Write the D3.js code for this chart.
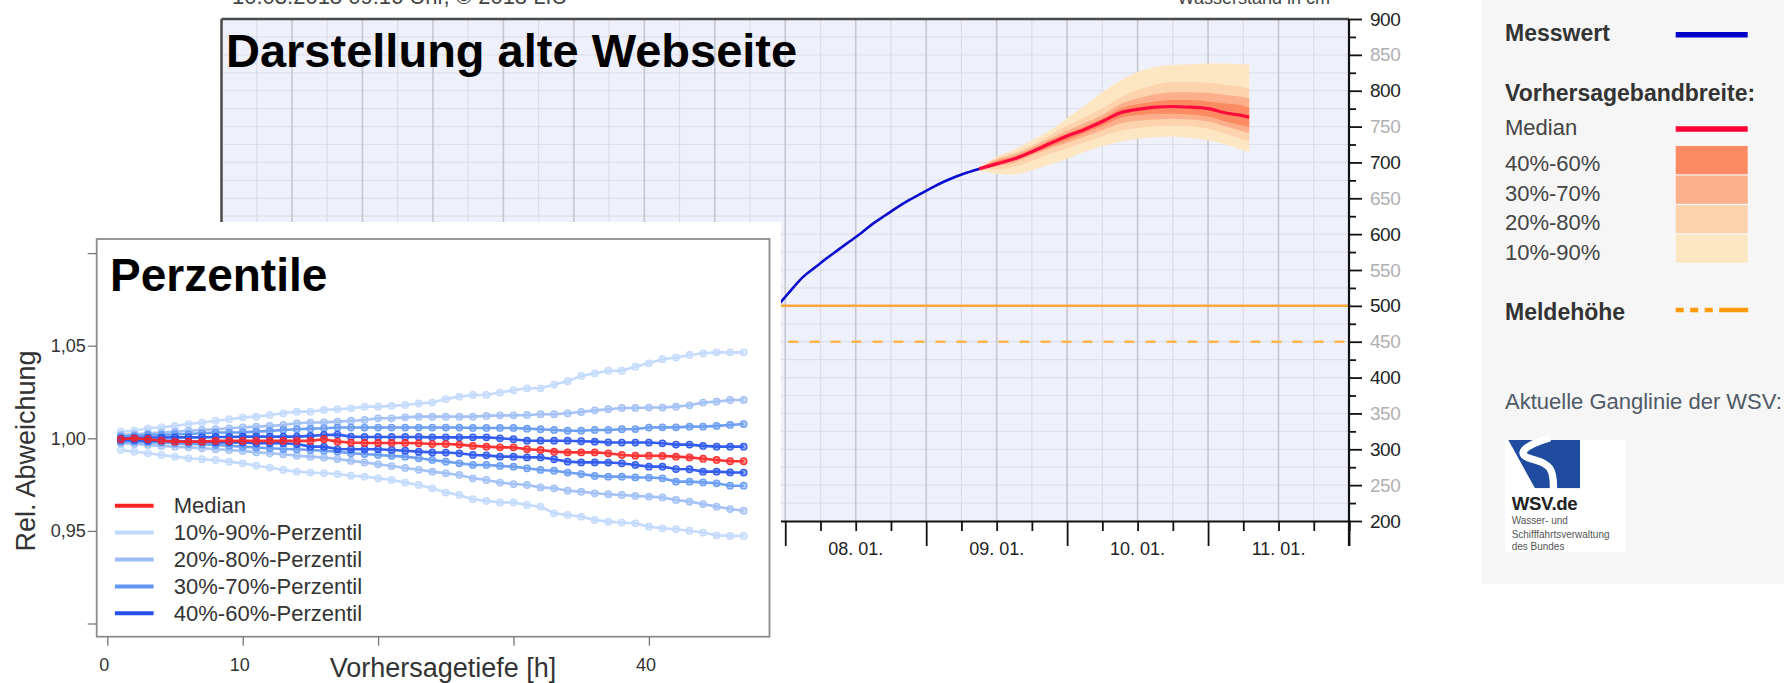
<!DOCTYPE html>
<html><head><meta charset="utf-8">
<script src="https://cdn.jsdelivr.net/npm/d3@7"></script>
<style>body{margin:0;background:#fff}svg{display:block}text{font-family:"Liberation Sans",Arial,sans-serif}</style>
</head><body><svg id="c" width="1789" height="683"></svg>
<script>
// ---------------- DATA ----------------
// Hauptdiagramm: Messwert (Stunden nach 08.01. 00:00)
const messHours  = [-1, 1, 3, 5, 7, 9, 11, 13, 15, 17, 19, 21, 23, 25, 27, 29, 31, 33];
const messValues = [503, 522, 540, 553, 566, 578, 590, 602, 615, 626, 637, 647, 656, 665, 673, 680, 686, 691];
// Vorhersage (Stunden nach 09.01. 09:00)
const fcHours  = [0, 3, 6, 9, 12, 15, 18, 21, 24, 27, 30, 33, 36, 39, 42, 45, 46];
const fcMedian = [691, 698, 705, 715, 726, 737, 746, 757, 769, 774, 777, 778, 777, 775, 769, 765, 763];
const fcQ90 = [693, 708, 718, 731, 744, 762, 779, 798, 814, 826, 833, 836, 837, 838, 838, 837, 837];
const fcQ80 = [692, 706, 714, 724, 738, 751, 763, 776, 790, 801, 808, 812, 812, 811, 808, 805, 803];
const fcQ70 = [692, 704, 711, 721, 733, 744, 755, 766, 781, 789, 795, 798, 798, 797, 794, 791, 789];
const fcQ60 = [691, 702, 708, 718, 730, 740, 750, 761, 775, 781, 785, 787, 787, 785, 782, 779, 776];
const fcQ40 = [691, 697, 703, 712, 722, 731, 741, 751, 762, 766, 768, 768, 767, 764, 757, 751, 749];
const fcQ30 = [690, 695, 700, 710, 719, 727, 736, 745, 754, 758, 760, 761, 760, 757, 750, 743, 741];
const fcQ20 = [690, 690, 694, 702, 712, 719, 728, 737, 744, 748, 750, 751, 750, 747, 740, 732, 730];
const fcQ10 = [689, 684, 683, 689, 697, 705, 715, 723, 729, 733, 735, 736, 734, 731, 725, 717, 714];
const meldeSolid = 500;
const meldeDashed = 450;
const yTicksMain = [200,225,250,275,300,325,350,375,400,425,450,475,500,525,550,575,600,625,650,675,700,725,750,775,800,825,850,875,900];
const legendBands = ["40%-60%", "30%-70%", "20%-80%", "10%-90%"];
const bandColors = ["#fc8a62", "#fdaf8b", "#fdd3ae", "#fde7c3"];

// Inset: Perzentile der rel. Abweichung
const inHours = [1,2,3,4,5,6,7,8,9,10,11,12,13,14,15,16,17,18,19,20,21,22,23,24,25,26,27,28,29,30,31,32,33,34,35,36,37,38,39,40,41,42,43,44,45,46,47];
const p90 = [1.0036,1.0041,1.0054,1.0059,1.0067,1.0077,1.0085,1.0095,1.0103,1.0113,1.0117,1.0126,1.0135,1.0144,1.0144,1.0153,1.0157,1.0162,1.0171,1.0171,1.0175,1.0180,1.0188,1.0193,1.0212,1.0225,1.0234,1.0234,1.0247,1.0259,1.0270,1.0270,1.0290,1.0308,1.0337,1.0351,1.0365,1.0365,1.0387,1.0405,1.0427,1.0436,1.0450,1.0459,1.0464,1.0464,1.0464];
const p80 = [1.0018,1.0022,1.0027,1.0031,1.0036,1.0040,1.0045,1.0049,1.0054,1.0059,1.0063,1.0067,1.0072,1.0081,1.0085,1.0086,1.0090,1.0095,1.0099,1.0108,1.0108,1.0113,1.0117,1.0117,1.0117,1.0117,1.0117,1.0121,1.0124,1.0124,1.0126,1.0130,1.0130,1.0135,1.0142,1.0151,1.0157,1.0164,1.0164,1.0166,1.0166,1.0171,1.0178,1.0193,1.0198,1.0207,1.0207];
const p70 = [1.0009,1.0013,1.0018,1.0018,1.0022,1.0023,1.0027,1.0031,1.0031,1.0032,1.0036,1.0040,1.0045,1.0049,1.0052,1.0054,1.0058,1.0058,1.0058,1.0058,1.0058,1.0058,1.0058,1.0058,1.0058,1.0058,1.0056,1.0056,1.0056,1.0056,1.0052,1.0049,1.0045,1.0041,1.0041,1.0045,1.0045,1.0049,1.0050,1.0058,1.0059,1.0059,1.0063,1.0063,1.0067,1.0072,1.0077];
const p60 = [1.0000,1.0002,1.0004,1.0004,1.0005,1.0005,1.0005,1.0007,1.0007,1.0009,1.0009,1.0009,1.0009,1.0009,1.0013,1.0018,1.0020,1.0009,1.0007,1.0007,1.0007,1.0007,1.0007,1.0005,1.0005,1.0005,1.0005,1.0005,1.0000,0.9995,0.9987,0.9987,0.9987,0.9987,0.9984,0.9982,0.9978,0.9977,0.9977,0.9977,0.9973,0.9966,0.9966,0.9959,0.9955,0.9955,0.9955];
const p50 = [0.9995,1.0000,0.9995,0.9987,0.9982,0.9982,0.9982,0.9986,0.9986,0.9986,0.9986,0.9986,0.9986,0.9986,0.9986,0.9995,0.9982,0.9977,0.9975,0.9975,0.9975,0.9975,0.9973,0.9969,0.9969,0.9966,0.9959,0.9955,0.9951,0.9951,0.9941,0.9937,0.9928,0.9924,0.9924,0.9924,0.9919,0.9910,0.9906,0.9906,0.9905,0.9901,0.9897,0.9890,0.9883,0.9876,0.9876];
const p40 = [0.9991,0.9991,0.9987,0.9987,0.9986,0.9982,0.9982,0.9978,0.9978,0.9977,0.9973,0.9973,0.9973,0.9969,0.9955,0.9955,0.9942,0.9941,0.9941,0.9941,0.9937,0.9933,0.9928,0.9924,0.9923,0.9919,0.9910,0.9908,0.9901,0.9901,0.9897,0.9897,0.9887,0.9874,0.9870,0.9870,0.9869,0.9865,0.9856,0.9847,0.9847,0.9834,0.9833,0.9820,0.9820,0.9816,0.9815];
const p30 = [0.9982,0.9982,0.9978,0.9977,0.9973,0.9969,0.9968,0.9964,0.9960,0.9955,0.9950,0.9946,0.9942,0.9941,0.9937,0.9933,0.9928,0.9919,0.9915,0.9910,0.9905,0.9901,0.9892,0.9883,0.9874,0.9865,0.9856,0.9856,0.9851,0.9847,0.9838,0.9829,0.9825,0.9815,0.9807,0.9797,0.9793,0.9793,0.9789,0.9788,0.9784,0.9766,0.9766,0.9762,0.9757,0.9744,0.9744];
const p20 = [0.9973,0.9969,0.9964,0.9959,0.9955,0.9951,0.9946,0.9941,0.9937,0.9932,0.9924,0.9919,0.9914,0.9906,0.9901,0.9896,0.9888,0.9878,0.9870,0.9860,0.9850,0.9840,0.9830,0.9820,0.9811,0.9802,0.9784,0.9775,0.9761,0.9753,0.9748,0.9735,0.9730,0.9717,0.9712,0.9703,0.9698,0.9694,0.9689,0.9685,0.9681,0.9667,0.9658,0.9645,0.9631,0.9618,0.9609];
const p10 = [0.9937,0.9928,0.9919,0.9910,0.9901,0.9892,0.9887,0.9883,0.9874,0.9865,0.9852,0.9842,0.9829,0.9820,0.9815,0.9811,0.9807,0.9798,0.9793,0.9784,0.9775,0.9761,0.9748,0.9730,0.9707,0.9694,0.9671,0.9662,0.9654,0.9654,0.9640,0.9631,0.9595,0.9586,0.9577,0.9559,0.9550,0.9545,0.9541,0.9523,0.9514,0.9509,0.9501,0.9491,0.9476,0.9473,0.9473];
const inYTicks = [0.90, 0.95, 1.00, 1.05, 1.10];
const inYLabels = {"0.95":"0,95", "1":"1,00", "1.05":"1,05"};
const inXTicks = [0, 10, 20, 30, 40];
const inXLabels = [0, 10, 40];
const inLegend = ["Median", "10%-90%-Perzentil", "20%-80%-Perzentil", "30%-70%-Perzentil", "40%-60%-Perzentil"];
const inColors = ["#ff2222", "#bfd8fd", "#9dbdf6", "#6197f3", "#2350ee"];

// ---------------- MAIN CHART ----------------
const svg = d3.select("#c");
const t0 = new Date(2018, 0, 8, 0);
const tFc = new Date(2018, 0, 9, 9);
const hAfter = (base, h) => new Date(base.getTime() + h * 3600e3);

const xT = d3.scaleTime().domain([new Date(2018,0,4), new Date(2018,0,12)]).range([221.5, 1349]);
const yM = d3.scaleLinear().domain([200, 900]).range([521, 19]);
const [X0, X1] = xT.range();

const main = svg.append("g");
main.append("rect").attr("x", X0).attr("y", yM(900)).attr("width", X1 - X0).attr("height", yM(200) - yM(900)).attr("fill", "#eef0fc");
main.selectAll(".hg").data(yTicksMain.slice(1, -1)).join("line")
  .attr("x1", X0).attr("x2", X1).attr("y1", d => yM(d)).attr("y2", d => yM(d))
  .attr("stroke", "#dfe0ea").attr("stroke-width", 1.2);
const sixH = xT.ticks(d3.timeHour.every(6));
main.selectAll(".vg").data(sixH.filter(d => +d > +xT.domain()[0] && +d < +xT.domain()[1])).join("line")
  .attr("x1", d => xT(d)).attr("x2", d => xT(d)).attr("y1", yM(900)).attr("y2", yM(200))
  .attr("stroke", d => d.getHours() % 12 === 0 ? "#c6c7cf" : "#dcdde6").attr("stroke-width", d => d.getHours() % 12 === 0 ? 1.6 : 1.2);

// Meldehöhen
main.append("line").attr("x1", X0).attr("x2", X1).attr("y1", yM(meldeSolid)).attr("y2", yM(meldeSolid))
  .attr("stroke", "#f8a838").attr("stroke-width", 2.5);
main.append("line").attr("x1", X0).attr("x2", X1).attr("y1", yM(meldeDashed)).attr("y2", yM(meldeDashed))
  .attr("stroke", "#fbb54c").attr("stroke-width", 2.5).attr("stroke-dasharray", "10,11");

// Vorhersagebänder
const fcData = fcHours.map((h, i) => ({t: hAfter(tFc, h), m: fcMedian[i], q10: fcQ10[i], q20: fcQ20[i], q30: fcQ30[i], q40: fcQ40[i], q60: fcQ60[i], q70: fcQ70[i], q80: fcQ80[i], q90: fcQ90[i]}));
const bands = [["q10","q90",bandColors[3]],["q20","q80",bandColors[2]],["q30","q70",bandColors[1]],["q40","q60",bandColors[0]]];
bands.forEach(([lo, hi, col]) => {
  main.append("path").datum(fcData)
    .attr("d", d3.area().x(d => xT(d.t)).y0(d => yM(d[lo])).y1(d => yM(d[hi])).curve(d3.curveMonotoneX))
    .attr("fill", col);
});
main.append("path").datum(fcData)
  .attr("d", d3.line().x(d => xT(d.t)).y(d => yM(d.m)).curve(d3.curveMonotoneX))
  .attr("fill", "none").attr("stroke", "#ff0a3c").attr("stroke-width", 3.2);

// Messwert
const messData = messHours.map((h, i) => ({t: hAfter(t0, h), v: messValues[i]}));
main.append("path").datum(messData)
  .attr("d", d3.line().x(d => xT(d.t)).y(d => yM(d.v)).curve(d3.curveMonotoneX))
  .attr("fill", "none").attr("stroke", "#0a0ad0").attr("stroke-width", 2.6);

// Rahmen
main.append("line").attr("x1", X0).attr("x2", X1).attr("y1", yM(900)).attr("y2", yM(900)).attr("stroke", "#4a4a4a").attr("stroke-width", 2.5);
main.append("line").attr("x1", X0).attr("x2", X0).attr("y1", yM(900)).attr("y2", yM(200)).attr("stroke", "#4a4a4a").attr("stroke-width", 2.5);

// X-Achse
const xAxis = main.append("g").attr("transform", `translate(0,${yM(200)})`)
  .call(d3.axisBottom(xT).tickValues(sixH).tickFormat("").tickSizeOuter(0).tickSize(10));
xAxis.select(".domain").attr("stroke", "#111").attr("stroke-width", 2.2);
xAxis.selectAll(".tick line").attr("stroke", "#111").attr("stroke-width", 1.8)
  .attr("y2", d => d.getHours() === 0 ? 25 : 10);
const noons = d3.timeDay.range(xT.domain()[0], xT.domain()[1]).map(d => hAfter(d, 12));
main.selectAll(".xl").data(noons).join("text")
  .attr("x", d => xT(d)).attr("y", 555).attr("text-anchor", "middle")
  .attr("font-size", 18).attr("fill", "#222").text(d3.timeFormat("%d. %m."));

// Y-Achse rechts
const yAxis = main.append("g").attr("transform", `translate(${X1},0)`)
  .call(d3.axisRight(yM).tickValues(yTicksMain).tickFormat(d => d % 50 === 0 ? d : "").tickSize(13).tickPadding(8));
yAxis.select(".domain").remove();
yAxis.selectAll(".tick line").attr("stroke", "#111").attr("stroke-width", 1.8).attr("x2", d => d % 50 === 0 ? 13 : 7);
yAxis.selectAll(".tick text").attr("font-size", 19).attr("font-family", "Liberation Sans, Arial, sans-serif")
  .attr("fill", d => d % 100 === 0 ? "#222" : "#b0b0b0").attr("letter-spacing", "-0.5");
main.append("line").attr("x1", X1).attr("x2", X1).attr("y1", yM(900)).attr("y2", 546).attr("stroke", "#111").attr("stroke-width", 2.2);

// Kopftexte (oben abgeschnitten)
svg.append("text").attr("x", 232).attr("y", 4).attr("font-family", "DejaVu Sans").attr("font-size", 22).attr("fill", "#444").text("10.03.2018 09:16 Uhr, © 2018 LfU");
svg.append("text").attr("x", 1330).attr("y", 4).attr("text-anchor", "end").attr("font-family", "DejaVu Sans").attr("font-size", 18).attr("fill", "#444").text("Wasserstand in cm");
svg.append("text").attr("x", 226).attr("y", 67).attr("font-size", 47).attr("font-weight", "bold").attr("fill", "#000").text("Darstellung alte Webseite");

// ---------------- LEGENDE RECHTS ----------------
const leg = svg.append("g");
leg.append("rect").attr("x", 1482).attr("y", -5).attr("width", 302).attr("height", 589).attr("fill", "#f6f6f6");
const LX = 1505, SX = 1675.7, SW = 72;
leg.append("text").attr("x", LX).attr("y", 33.3).attr("dy", "0.35em").attr("font-size", 23).attr("font-weight", "bold").attr("fill", "#333").text("Messwert");
leg.append("line").attr("x1", SX).attr("x2", SX + SW).attr("y1", 34.7).attr("y2", 34.7).attr("stroke", "#0000c8").attr("stroke-width", 5.5);
leg.append("text").attr("x", LX).attr("y", 93.3).attr("dy", "0.35em").attr("font-size", 23).attr("font-weight", "bold").attr("fill", "#333").text("Vorhersagebandbreite:");
leg.append("text").attr("x", LX).attr("y", 127.7).attr("dy", "0.35em").attr("font-size", 22).attr("fill", "#444").text("Median");
leg.append("line").attr("x1", SX).attr("x2", SX + SW).attr("y1", 129).attr("y2", 129).attr("stroke", "#ff0033").attr("stroke-width", 5.5);
legendBands.forEach((lab, i) => {
  const top = 146 + i * 29.5;
  leg.append("rect").attr("x", SX).attr("y", top).attr("width", SW).attr("height", 28.3).attr("fill", bandColors[i]);
  leg.append("text").attr("x", LX).attr("y", top + 17.5).attr("dy", "0.35em").attr("font-size", 22).attr("fill", "#444").text(lab);
});
leg.append("text").attr("x", LX).attr("y", 311.7).attr("dy", "0.35em").attr("font-size", 23).attr("font-weight", "bold").attr("fill", "#333").text("Meldehöhe");
leg.append("line").attr("x1", SX).attr("x2", SX + SW + 0.5).attr("y1", 310).attr("y2", 310).attr("stroke", "#ff9a00").attr("stroke-width", 4.5)
  .attr("stroke-dasharray", "8,6.5,8,6.5,8,6.5,30,0");
leg.append("text").attr("x", LX).attr("y", 401.7).attr("dy", "0.35em").attr("font-size", 22).attr("fill", "#505a66").text("Aktuelle Ganglinie der WSV:");

// WSV Logo
const logo = leg.append("g").attr("transform", "translate(1500,435) scale(0.3333)");
logo.append("rect").attr("x", 15).attr("y", 15).attr("width", 363).attr("height", 337).attr("fill", "#fff");
logo.append("path").attr("d", "M25,15 L240,15 L240,160 L105,160 Z").attr("fill", "#1f4c9f");
logo.append("path").attr("d", "M150,8 C70,32 45,58 95,72 C150,86 163,100 160,168").attr("fill", "none").attr("stroke", "#fff").attr("stroke-width", 22);
logo.append("rect").attr("x", 15).attr("y", 160).attr("width", 363).attr("height", 12).attr("fill", "#fff");
logo.append("text").attr("x", 35).attr("y", 226).attr("font-size", 56).attr("font-weight", "bold").attr("fill", "#222").attr("letter-spacing", "-1").text("WSV.de");
[["Wasser- und", 268], ["Schifffahrtsverwaltung", 308], ["des Bundes", 346]].forEach(([t, y]) => {
  logo.append("text").attr("x", 35).attr("y", y).attr("font-size", 30).attr("fill", "#555").text(t);
});

// ---------------- INSET ----------------
const ins = svg.append("g");
ins.append("rect").attr("x", 0).attr("y", 222).attr("width", 781).attr("height", 461).attr("fill", "#fff");
const xI = d3.scaleLinear().domain([0, 40]).range([107.3, 648.9]);
const yI = d3.scaleLinear().domain([0.95, 1.05]).range([530.9, 345.7]);
const FX0 = 96.7, FX1 = 769.5, FY0 = 239, FY1 = 636.7;
ins.append("rect").attr("x", FX0).attr("y", FY0).attr("width", FX1 - FX0).attr("height", FY1 - FY0)
  .attr("fill", "none").attr("stroke", "#8c8c8c").attr("stroke-width", 1.8);
const yAx = ins.append("g").attr("transform", `translate(${FX0},0)`)
  .call(d3.axisLeft(yI).tickValues(inYTicks).tickSize(9).tickPadding(2).tickFormat(d => inYLabels[String(+d.toFixed(2))] || ""));
yAx.select(".domain").remove();
yAx.selectAll(".tick line").attr("stroke", "#777").attr("stroke-width", 1.3);
yAx.selectAll(".tick text").attr("font-size", 18).attr("fill", "#333").attr("font-family", "Liberation Sans, Arial, sans-serif");
const xAx = ins.append("g").attr("transform", `translate(0,${FY1})`)
  .call(d3.axisBottom(xI).tickValues(inXTicks).tickSize(9).tickFormat(""));
xAx.select(".domain").remove();
xAx.selectAll(".tick line").attr("stroke", "#777").attr("stroke-width", 1.3);
ins.selectAll(".ixl").data(inXLabels).join("text")
  .attr("x", d => xI(d) - 3).attr("y", 671).attr("text-anchor", "middle").attr("font-size", 18).attr("fill", "#333").text(d => d);
ins.append("text").attr("x", 443).attr("y", 677).attr("text-anchor", "middle").attr("font-size", 27).attr("fill", "#333").text("Vorhersagetiefe [h]");
ins.append("text").attr("transform", "translate(35,451) rotate(-90)").attr("text-anchor", "middle").attr("font-size", 27).attr("fill", "#333").text("Rel. Abweichung");
ins.append("text").attr("x", 110).attr("y", 291).attr("font-size", 46).attr("font-weight", "bold").attr("fill", "#000").text("Perzentile");

const inSeries = [
  [p10, inColors[1]], [p90, inColors[1]],
  [p20, inColors[2]], [p80, inColors[2]],
  [p30, inColors[3]], [p70, inColors[3]],
  [p40, inColors[4]], [p60, inColors[4]],
  [p50, inColors[0]]
];
const lineI = d3.line().x(d => xI(d[0])).y(d => yI(d[1]));
inSeries.forEach(([vals, col]) => {
  const pts = inHours.map((h, i) => [h, vals[i]]);
  const gS = ins.append("g").attr("opacity", 0.92);
  gS.append("path").datum(pts).attr("d", lineI).attr("fill", "none").attr("stroke", col).attr("stroke-width", 2.6);
  gS.selectAll("circle").data(pts).join("circle")
    .attr("cx", d => xI(d[0])).attr("cy", d => yI(d[1])).attr("r", 3.2)
    .attr("fill", col).attr("fill-opacity", 0.55).attr("stroke", col).attr("stroke-width", 1.4);
});
// Legende Inset
inLegend.forEach((lab, i) => {
  const y = 505.7 + i * 26.9;
  ins.append("line").attr("x1", 114.9).attr("x2", 153.6).attr("y1", y).attr("y2", y).attr("stroke", inColors[i]).attr("stroke-width", 4);
  ins.append("text").attr("x", 173.8).attr("y", y).attr("dy", "0.35em").attr("font-size", 22).attr("fill", "#333").text(lab);
});
</script></body></html>
